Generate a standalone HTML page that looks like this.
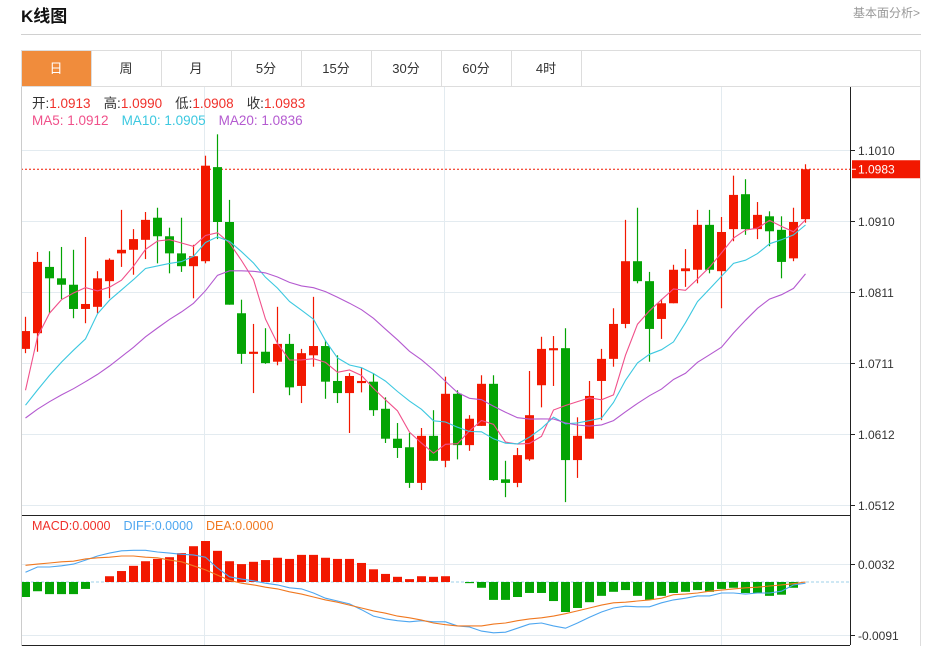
<!DOCTYPE html>
<html><head><meta charset="utf-8"><style>
body{margin:0;background:#fff;width:939px;height:646px;overflow:hidden;font-family:"Liberation Sans","Noto Sans CJK SC",sans-serif}
svg text{font-family:"Liberation Sans","Noto Sans CJK SC",sans-serif}
</style></head><body>
<svg id="c" width="939" height="646" xmlns="http://www.w3.org/2000/svg">
<text x="21" y="22" font-size="17" font-weight="bold" fill="#111">K线图</text>
<text x="920" y="17" font-size="12" fill="#999" text-anchor="end">基本面分析&gt;</text>
<line x1="21" y1="34.5" x2="921" y2="34.5" stroke="#d0d0d0"/>
<rect x="21.5" y="50.5" width="899" height="600" fill="none" stroke="#ddd"/>
<line x1="21" y1="86.5" x2="921" y2="86.5" stroke="#ddd"/>
<g id="tabs"></g>
<g id="grid"></g>
<g id="marks"></g>
<g id="axes"></g>
<text y="108" font-size="13.5"><tspan x="32" fill="#333">开:</tspan><tspan fill="#f0302a">1.0913</tspan><tspan fill="#333" dx="13">高:</tspan><tspan fill="#f0302a">1.0990</tspan><tspan fill="#333" dx="13">低:</tspan><tspan fill="#f0302a">1.0908</tspan><tspan fill="#333" dx="13">收:</tspan><tspan fill="#f0302a">1.0983</tspan></text>
<text y="125" font-size="13.5"><tspan x="32" fill="#f0508a">MA5: 1.0912</tspan><tspan dx="13" fill="#3cc8e0">MA10: 1.0905</tspan><tspan dx="13" fill="#b45ad0">MA20: 1.0836</tspan></text>
<text y="530" font-size="12.5"><tspan x="32" fill="#f0302a">MACD:0.0000</tspan><tspan dx="13" fill="#4da6f0">DIFF:0.0000</tspan><tspan dx="13" fill="#f07820">DEA:0.0000</tspan></text>
</svg>
<script>
const opens=[1.0731,1.0753,1.0846,1.0830,1.0821,1.0787,1.0790,1.0826,1.0865,1.0870,1.0884,1.0915,1.0889,1.0865,1.0847,1.0854,1.0986,1.0909,1.0781,1.0724,1.0727,1.0713,1.0738,1.0679,1.0722,1.0735,1.0686,1.0669,1.0683,1.0685,1.0647,1.0605,1.0593,1.0543,1.0609,1.0574,1.0668,1.0596,1.0623,1.0682,1.0548,1.0543,1.0576,1.0680,1.0729,1.0732,1.0575,1.0605,1.0686,1.0717,1.0766,1.0854,1.0826,1.0773,1.0795,1.0840,1.0842,1.0905,1.0840,1.0899,1.0948,1.0899,1.0917,1.0898,1.0858,1.0913];
const highs=[1.0776,1.0867,1.0868,1.0874,1.0870,1.0888,1.0840,1.0858,1.0926,1.0899,1.0923,1.0929,1.0901,1.0915,1.0877,1.1002,1.1032,1.0940,1.0800,1.0766,1.0760,1.0790,1.0752,1.0731,1.0804,1.0743,1.0722,1.0697,1.0704,1.0697,1.0663,1.0627,1.0613,1.0620,1.0645,1.0692,1.0673,1.0638,1.0694,1.0694,1.0574,1.0592,1.0700,1.0748,1.0749,1.0760,1.0635,1.0686,1.0731,1.0788,1.0912,1.0929,1.0839,1.0801,1.0849,1.0871,1.0926,1.0926,1.0916,1.0974,1.0969,1.0937,1.0924,1.0917,1.0929,1.0990];
const lows=[1.0725,1.0727,1.0781,1.0801,1.0774,1.0767,1.0781,1.0802,1.0846,1.0835,1.0857,1.0851,1.0837,1.0839,1.0802,1.0851,1.0885,1.0793,1.0710,1.0669,1.0710,1.0708,1.0666,1.0655,1.0706,1.0661,1.0655,1.0613,1.0670,1.0637,1.0599,1.0578,1.0536,1.0533,1.0574,1.0565,1.0576,1.0588,1.0623,1.0546,1.0523,1.0537,1.0574,1.0649,1.0679,1.0516,1.0550,1.0605,1.0631,1.0706,1.0760,1.0823,1.0713,1.0745,1.0795,1.0818,1.0823,1.0837,1.0788,1.0882,1.0891,1.0885,1.0875,1.0830,1.0854,1.0908];
const closes=[1.0756,1.0853,1.0830,1.0821,1.0787,1.0794,1.0830,1.0856,1.0870,1.0885,1.0912,1.0889,1.0865,1.0847,1.0861,1.0988,1.0909,1.0793,1.0724,1.0727,1.0711,1.0738,1.0677,1.0725,1.0735,1.0685,1.0669,1.0693,1.0686,1.0645,1.0605,1.0592,1.0543,1.0609,1.0574,1.0668,1.0596,1.0633,1.0682,1.0547,1.0543,1.0582,1.0638,1.0731,1.0732,1.0575,1.0609,1.0665,1.0717,1.0766,1.0854,1.0826,1.0759,1.0795,1.0842,1.0844,1.0905,1.0842,1.0895,1.0947,1.0899,1.0919,1.0896,1.0853,1.0909,1.0983];
const priorCloses=[1.0605,1.0620,1.0630,1.0612,1.0600,1.0625,1.0618,1.0610,1.0622,1.0618,1.0640,1.0625,1.0635,1.0620,1.0635,1.0478,1.0665,1.0726,1.0740];
const macdHist=[-0.0026,-0.0016,-0.0021,-0.0021,-0.0021,-0.0012,0.0000,0.0010,0.0019,0.0028,0.0036,0.0040,0.0043,0.0050,0.0062,0.0071,0.0054,0.0036,0.0031,0.0035,0.0038,0.0042,0.0040,0.0047,0.0047,0.0042,0.0040,0.0040,0.0033,0.0022,0.0014,0.0009,0.0005,0.0010,0.0009,0.0010,0.0000,-0.0002,-0.0010,-0.0031,-0.0031,-0.0026,-0.0019,-0.0019,-0.0033,-0.0052,-0.0045,-0.0035,-0.0024,-0.0017,-0.0014,-0.0024,-0.0031,-0.0024,-0.0019,-0.0017,-0.0014,-0.0017,-0.0012,-0.0010,-0.0019,-0.0019,-0.0024,-0.0022,-0.0010,0.0000];
const diffVals=[0.0017,0.0026,0.0026,0.0028,0.0031,0.0038,0.0045,0.0050,0.0054,0.0055,0.0055,0.0052,0.0050,0.0048,0.0047,0.0043,0.0024,0.0009,0.0005,0.0002,-0.0002,-0.0005,-0.0010,-0.0012,-0.0019,-0.0028,-0.0033,-0.0038,-0.0048,-0.0059,-0.0064,-0.0067,-0.0069,-0.0067,-0.0069,-0.0069,-0.0076,-0.0078,-0.0085,-0.0088,-0.0087,-0.0080,-0.0073,-0.0071,-0.0076,-0.0080,-0.0071,-0.0061,-0.0052,-0.0045,-0.0042,-0.0043,-0.0043,-0.0036,-0.0031,-0.0028,-0.0024,-0.0024,-0.0019,-0.0019,-0.0021,-0.0019,-0.0019,-0.0016,-0.0005,-0.0002];
const deaVals=[0.0029,0.0031,0.0033,0.0035,0.0036,0.0040,0.0042,0.0043,0.0045,0.0045,0.0043,0.0042,0.0038,0.0035,0.0028,0.0021,0.0012,0.0003,-0.0002,-0.0005,-0.0009,-0.0012,-0.0017,-0.0021,-0.0026,-0.0031,-0.0035,-0.0040,-0.0045,-0.0050,-0.0054,-0.0059,-0.0062,-0.0066,-0.0071,-0.0074,-0.0076,-0.0076,-0.0076,-0.0073,-0.0071,-0.0067,-0.0064,-0.0062,-0.0059,-0.0055,-0.0050,-0.0045,-0.0040,-0.0036,-0.0035,-0.0033,-0.0031,-0.0028,-0.0022,-0.0021,-0.0019,-0.0016,-0.0014,-0.0012,-0.0010,-0.0009,-0.0007,-0.0005,-0.0003,0.0000];
const priceTicks=["1.1010","1.0910","1.0811","1.0711","1.0612","1.0512"];
const macdTicks=["0.0032","-0.0091"];
const tabLabels=["日","周","月","5分","15分","30分","60分","4时"];

const NS="http://www.w3.org/2000/svg";
function mk(parent,tag,attrs){const e=document.createElementNS(NS,tag);for(const k in attrs)e.setAttribute(k,attrs[k]);parent.appendChild(e);return e;}
const xS=i=>25.5+12*i;
const yP=p=>150+(1.1010-p)/0.0498*355;
const yM=v=>582-v/0.0123*71;
const RED="#f21800",GREEN="#04a404";

const tabs=document.getElementById('tabs');
tabLabels.forEach((t,i)=>{
  const x=21+70*i;
  const r=mk(tabs,'rect',{x:x+0.5,y:50.5,width:70,height:36,fill:i===0?'#f08c3c':'#fff',stroke:'#ddd'});
  
  
  const tx=mk(tabs,'text',{x:x+35,y:73,'font-size':13,'text-anchor':'middle',fill:i===0?'#fff':'#333'});
  tx.textContent=t;
  
  
});

const grid=document.getElementById('grid');
priceTicks.forEach(t=>{const y=Math.round(yP(parseFloat(t)))+0.5;mk(grid,'line',{x1:21,y1:y,x2:850,y2:y,stroke:'#e3ebf0'});});
macdTicks.forEach(t=>{const y=Math.round(yM(parseFloat(t)))+0.5;mk(grid,'line',{x1:21,y1:y,x2:850,y2:y,stroke:'#e3ebf0'});});
[204.5,444.5,721.5].forEach(x=>{mk(grid,'line',{x1:x,y1:87,x2:x,y2:645,stroke:'#e3ebf0'});});

const marks=document.getElementById('marks');
const lastY=yP(closes[closes.length-1]);
mk(marks,'line',{x1:21,y1:lastY,x2:850,y2:lastY,stroke:RED,'stroke-dasharray':'2,2'});

for(let i=0;i<closes.length;i++){
  const up=closes[i]>=opens[i];const col=up?RED:GREEN;const x=xS(i);
  const w=mk(marks,'line',{x1:x,y1:yP(highs[i]),x2:x,y2:yP(lows[i]),stroke:col,'stroke-width':1.2});
  
  
  const top=yP(Math.max(opens[i],closes[i])),bot=yP(Math.min(opens[i],closes[i]));
  const b=mk(marks,'rect',{x:x-4.5,y:top,width:9,height:Math.max(1.5,bot-top),fill:col});
  
  
}
const all=priorCloses.concat(closes);
function ma(n){const out=[];for(let i=0;i<closes.length;i++){const j=i+priorCloses.length;let s=0;for(let k=j-n+1;k<=j;k++)s+=all[k];out.push(s/n);}return out;}
[[5,'#f0508a'],[10,'#3cc8e0'],[20,'#b45ad0']].forEach(([n,c])=>{
  const v=ma(n);
  const pl=mk(marks,'polyline',{points:v.map((p,i)=>xS(i)+','+yP(p).toFixed(1)).join(' '),fill:'none',stroke:c,'stroke-width':1.1});
  
  
});

const z=yM(0);
mk(marks,'line',{x1:21,y1:z,x2:850,y2:z,stroke:'#9fd0e8','stroke-dasharray':'3,2'});
macdHist.forEach((v,i)=>{
  if(Math.abs(v)<0.00005)return;
  const y=yM(v);
  const r=mk(marks,'rect',{x:xS(i)-4.5,y:Math.min(y,z),width:9,height:Math.abs(y-z),fill:v>0?RED:GREEN});
  
  
});
const dl=mk(marks,'polyline',{points:diffVals.map((v,i)=>xS(i)+','+yM(v).toFixed(1)).join(' '),fill:'none',stroke:'#4da6f0','stroke-width':1.1});


const de=mk(marks,'polyline',{points:deaVals.map((v,i)=>xS(i)+','+yM(v).toFixed(1)).join(' '),fill:'none',stroke:'#f07820','stroke-width':1.1});



const axes=document.getElementById('axes');
mk(axes,'line',{x1:850.5,y1:87,x2:850.5,y2:645,stroke:'#222'});
mk(axes,'line',{x1:21,y1:515.5,x2:850,y2:515.5,stroke:'#222'});
mk(axes,'line',{x1:21,y1:645.5,x2:850,y2:645.5,stroke:'#222'});
mk(axes,'line',{x1:21.5,y1:87,x2:21.5,y2:646,stroke:'#ccc'});
priceTicks.forEach(t=>{
  const y=Math.round(yP(parseFloat(t)))+0.5;
  mk(axes,'line',{x1:850,y1:y,x2:855,y2:y,stroke:'#222'});
  const tx=mk(axes,'text',{x:858,y:y+4.5,'font-size':12,fill:'#333'});tx.textContent=t;
  
  
});
macdTicks.forEach(t=>{
  const y=Math.round(yM(parseFloat(t)))+0.5;
  mk(axes,'line',{x1:850,y1:y,x2:855,y2:y,stroke:'#222'});
  const tx=mk(axes,'text',{x:858,y:y+4.5,'font-size':12,fill:'#333'});tx.textContent=t;
  
  
});
const lr=mk(axes,'rect',{x:852,y:lastY-9,width:68,height:18,fill:RED});


mk(axes,'line',{x1:852,y1:lastY,x2:856,y2:lastY,stroke:'#fff'});
const lt=mk(axes,'text',{x:858,y:lastY+4.5,'font-size':12,fill:'#fff'});lt.textContent=closes[closes.length-1].toFixed(4);


</script>
</body></html>
